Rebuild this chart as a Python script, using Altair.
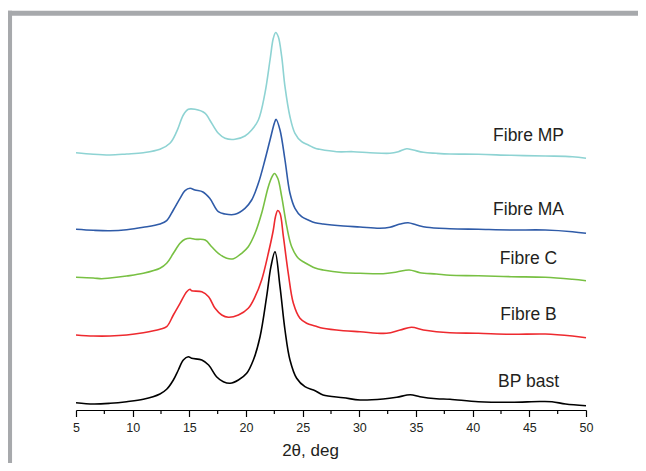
import altair as alt
import pandas as pd

# ---- data (2θ in degrees, intensity in arbitrary offset units) ----
mp_x = [5.0, 6.53, 8.0, 9.47, 10.94, 12.41, 13.29, 13.88, 14.47, 14.91, 15.5, 16.4, 16.8, 17.56, 18.15, 19.03,
        19.91, 20.5, 21.09, 21.67, 22.12, 22.41, 22.62, 22.85, 23.15, 23.44, 23.88, 24.32, 24.91, 25.5, 26.1,
        26.5, 28.0, 29.47, 30.94, 32.7, 33.44, 34.18, 34.76, 35.65, 36.8, 38.0, 40.5, 43.4, 46.4, 48.8, 50.0]
mp_y = [257.3, 255.7, 255.0, 256.0, 257.3, 260.7, 266.7, 278.3, 295.0, 300.7, 300.7, 296.7, 290.0, 276.7, 271.7, 270.7,
        274.0, 280.0, 290.0, 316.7, 350.0, 371.7, 377.5, 373.3, 353.3, 323.3, 293.3, 276.7, 268.3, 265.0, 261.7,
        260.7, 258.3, 258.3, 257.3, 256.7, 258.3, 261.3, 260.0, 257.7, 256.7, 256.0, 255.7, 254.7, 254.0, 253.3, 251.7]

ma_x = [5.0, 6.53, 8.0, 9.47, 10.94, 12.41, 13.0, 13.59, 14.18, 14.62, 15.06, 15.5, 16.2, 16.8, 17.56, 18.15,
        19.03, 19.91, 20.5, 21.09, 21.67, 22.12, 22.5, 22.65, 23.0, 23.44, 23.88, 24.32, 24.91, 25.5, 26.1,
        26.8, 28.6, 30.06, 31.8, 32.7, 33.6, 34.3, 35.06, 35.94, 38.0, 40.5, 43.4, 46.4, 48.8, 50.0]
ma_y = [180.7, 179.7, 179.3, 180.3, 182.7, 186.0, 189.3, 200.0, 211.7, 219.3, 221.7, 220.0, 218.0, 211.7, 198.3, 196.0,
        195.7, 201.7, 210.0, 226.7, 250.0, 270.0, 286.7, 290.7, 280.0, 250.0, 216.7, 201.7, 193.3, 190.0, 187.3,
        186.0, 184.0, 183.0, 181.7, 182.7, 186.0, 187.3, 185.0, 182.7, 181.3, 180.7, 180.0, 180.0, 178.3, 176.7]

c_x = [5.0, 6.53, 7.26, 8.0, 9.47, 10.94, 12.41, 13.0, 13.59, 14.18, 14.62, 15.06, 15.5, 16.4, 16.97, 17.56,
       18.3, 18.9, 19.62, 20.2, 20.8, 21.38, 21.97, 22.3, 22.5, 22.8, 23.15, 23.6, 24.03, 24.62, 25.2, 26.1,
       26.8, 28.6, 30.06, 32.1, 33.3, 34.4, 35.35, 36.8, 38.0, 40.5, 43.4, 46.4, 48.8, 50.0]
c_y = [132.7, 132.0, 131.3, 132.0, 134.0, 136.7, 141.7, 146.7, 156.7, 166.7, 170.7, 171.7, 170.7, 170.0, 163.3, 156.7,
       151.7, 151.3, 156.7, 163.3, 176.7, 196.7, 223.3, 233.3, 236.5, 231.7, 213.3, 183.3, 163.3, 151.7, 147.3, 142.0,
       140.0, 137.3, 136.7, 136.3, 138.0, 140.0, 137.3, 136.0, 134.7, 134.3, 133.3, 132.7, 130.7, 129.3]

b_x = [5.0, 6.53, 8.0, 9.47, 10.94, 12.41, 13.0, 13.59, 14.18, 14.77, 15.06, 15.2, 16.1, 16.7, 17.27, 17.86,
       18.44, 19.33, 20.2, 20.8, 21.38, 21.97, 22.41, 22.6, 22.8, 23.0, 23.3, 23.73, 24.18, 24.76, 25.35, 26.1,
       26.8, 28.6, 30.06, 32.4, 33.6, 34.6, 35.65, 36.8, 38.0, 40.5, 43.4, 46.4, 48.8, 50.0]
b_y = [75.0, 74.0, 74.0, 75.0, 77.3, 80.7, 83.3, 95.0, 106.7, 118.3, 120.7, 119.3, 118.3, 113.3, 101.7, 95.0,
       92.7, 95.0, 101.7, 113.3, 130.0, 156.7, 180.0, 193.3, 199.5, 196.7, 173.3, 136.7, 106.7, 91.7, 86.7, 84.0,
       81.7, 79.3, 78.3, 76.7, 80.0, 82.7, 80.0, 78.3, 77.3, 76.7, 75.7, 76.0, 74.0, 72.3]

bp_x = [5.0, 6.53, 8.0, 9.47, 10.94, 12.41, 13.0, 13.59, 14.03, 14.47, 14.91, 15.2, 16.1, 16.7, 17.4, 18.0,
        18.6, 19.33, 20.06, 20.65, 21.24, 21.82, 22.2, 22.56, 23.0, 23.44, 23.88, 24.47, 25.2, 26.1,
        26.8, 28.6, 30.06, 32.1, 33.3, 34.5, 35.35, 36.8, 38.0, 40.5, 43.4, 45.9, 47.0, 48.2, 50.0]
bp_y = [7.3, 6.0, 6.7, 8.3, 10.7, 16.0, 20.7, 30.0, 40.0, 50.0, 53.3, 51.7, 50.0, 45.0, 33.3, 28.3,
        26.7, 30.0, 36.7, 50.0, 73.3, 113.3, 143.3, 158.3, 123.3, 80.0, 50.0, 31.7, 23.3, 19.3,
        15.0, 12.3, 10.0, 11.0, 12.7, 15.3, 13.3, 11.3, 10.7, 8.3, 7.7, 8.5, 8.3, 6.0, 4.3]

series_names = ["Fibre MP", "Fibre MA", "Fibre C", "Fibre B", "BP bast"]
series_colors = ["#8ed3d3", "#2f5ba8", "#78c043", "#ee2a2f", "#000000"]
label_x = [44.93, 44.93, 44.93, 44.93, 44.93]
label_y = [269.3, 195.0, 146.0, 90.0, 22.7]

major_ticks = [5, 10, 15, 20, 25, 30, 35, 40, 45, 50]
minor_ticks = [7.5, 12.5, 17.5, 22.5, 27.5, 32.5, 37.5, 42.5, 47.5]

rows = []
for name, xs, ys in zip(series_names, [mp_x, ma_x, c_x, b_x, bp_x], [mp_y, ma_y, c_y, b_y, bp_y]):
    for i, (xv, yv) in enumerate(zip(xs, ys)):
        rows.append({"series": name, "x": xv, "y": yv, "order": i})
df = pd.DataFrame(rows)
labels_df = pd.DataFrame({"series": series_names, "x": label_x, "y": label_y})
minor_df = pd.DataFrame({"x": minor_ticks})

FONT = "Liberation Sans"
xscale = alt.Scale(domain=[5, 50], nice=False, zero=False)
yscale = alt.Scale(domain=[0, 385], nice=False, zero=False)

lines = alt.Chart(df).mark_line(strokeWidth=1.6, interpolate="catmull-rom").encode(
    x=alt.X("x:Q", scale=xscale,
            axis=alt.Axis(values=major_ticks, title="2θ, deg", grid=False, tickSize=6.5, tickWidth=1.2,
                          domainWidth=1.2, domainColor="#000000", tickColor="#000000",
                          labelFont=FONT, labelFontSize=12.5, labelColor="#231f20", labelPadding=5,
                          labelFlush=False,
                          titleFont=FONT, titleFontSize=17, titleFontWeight="normal", titleColor="#231f20",
                          titleX=234, titleY=45.5, titleAlign="center", titleBaseline="alphabetic")),
    y=alt.Y("y:Q", scale=yscale, axis=None),
    color=alt.Color("series:N", scale=alt.Scale(domain=series_names, range=series_colors), legend=None),
    detail="series:N",
    order="order:Q",
)

texts = alt.Chart(labels_df).mark_text(font=FONT, fontSize=17.5, color="#231f20", align="center",
                                       baseline="alphabetic").encode(
    x=alt.X("x:Q", scale=xscale),
    y=alt.Y("y:Q", scale=yscale),
    text="series:N",
)

minor = alt.Chart(minor_df).mark_rule(color="#000000", strokeWidth=1.2).encode(
    x=alt.X("x:Q", scale=xscale),
    y=alt.value(385),
    y2=alt.value(389),
)

frame_top = alt.Chart(pd.DataFrame({"k": [0]})).mark_rule(color="#a7a9ac", strokeWidth=5).encode(
    x=alt.value(-69), x2=alt.value(562), y=alt.value(-11.8)
)
frame_left = alt.Chart(pd.DataFrame({"k": [0]})).mark_rule(color="#a7a9ac", strokeWidth=4.7).encode(
    x=alt.value(-66.3), y=alt.value(-14.3), y2=alt.value(440)
)

chart = alt.layer(frame_top, frame_left, lines, minor, texts).properties(
    width=510, height=385,
    autosize=alt.AutoSizeParams(type="none"),
    padding={"left": 68, "top": 17, "right": 52, "bottom": 53},
).configure_view(stroke=None)

chart.save("out.html", embed_options={"renderer": "svg", "actions": False})
